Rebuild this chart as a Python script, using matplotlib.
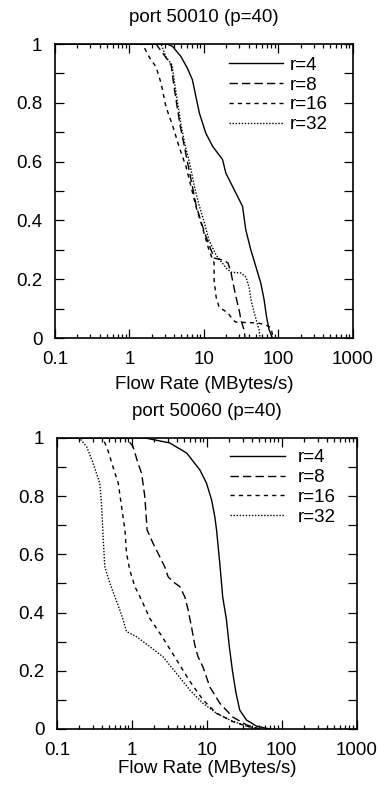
# CDF of flow rates for two ports, r = 4/8/16/32
import numpy as np
import matplotlib
matplotlib.use('Agg')
import matplotlib.pyplot as plt
from matplotlib.ticker import LogLocator, NullFormatter, FixedFormatter, FixedLocator

plt.rcParams['font.family'] = ['Liberation Sans', 'DejaVu Sans']

# ---- port 50010 ----
p1_r4_x = [0.1, 1.5, 3.2, 3.8, 4.9, 6.0, 7.0, 7.8, 8.7, 10.6, 13.1, 17.8, 19.7, 24.2, 33.0, 36.5, 42.6, 49.7, 58.0, 64.3, 69.1, 75, 83]
p1_r4_y = [1.0, 1.0, 1.0, 0.992, 0.958, 0.918, 0.879, 0.822, 0.765, 0.697, 0.652, 0.607, 0.561, 0.516, 0.448, 0.368, 0.300, 0.244, 0.187, 0.130, 0.074, 0.028, 0.0]

p1_r8_x = [0.1, 2.28, 2.92, 3.63, 3.86, 4.23, 4.79, 5.42, 6.14, 6.95, 7.85, 9.17, 10.7, 12.5, 13.7, 18.1, 21.1, 23.2, 24.6, 27.0, 29.7, 31.5, 34.6, 35.7]
p1_r8_y = [1.0, 1.0, 0.963, 0.929, 0.878, 0.810, 0.724, 0.656, 0.588, 0.520, 0.452, 0.395, 0.344, 0.299, 0.272, 0.265, 0.255, 0.221, 0.187, 0.139, 0.095, 0.061, 0.027, 0.0]

p1_r16_x = [0.1, 1.44, 1.57, 1.84, 2.28, 2.66, 3.10, 3.86, 4.65, 5.77, 6.73, 7.85, 9.17, 10.7, 11.7, 13.7, 13.7, 14.6, 16.0, 21.1, 24.6, 27.0, 53.4, 68.4, 79.8, 84.9]
p1_r16_y = [1.0, 1.0, 0.990, 0.956, 0.922, 0.867, 0.786, 0.718, 0.650, 0.582, 0.514, 0.446, 0.391, 0.333, 0.299, 0.255, 0.197, 0.139, 0.105, 0.085, 0.061, 0.054, 0.051, 0.044, 0.034, 0.0]

p1_r32_x = [0.1, 2.66, 3.10, 3.74, 3.98, 4.37, 4.94, 5.59, 6.53, 7.38, 8.62, 10.07, 11.7, 14.6, 19.9, 23.2, 31.5, 36.8, 40.4, 43.0, 47.2, 51.8, 55.1, 56.8]
p1_r32_y = [1.0, 1.0, 0.956, 0.929, 0.878, 0.810, 0.724, 0.656, 0.588, 0.520, 0.452, 0.395, 0.333, 0.282, 0.238, 0.224, 0.221, 0.207, 0.173, 0.129, 0.088, 0.051, 0.027, 0.0]

# ---- port 50060 ----
p2_r4_x = [0.1, 1.5, 3.2, 5.4, 8.1, 9.9, 11.6, 12.8, 13.5, 14.2, 14.9, 16.3, 18.3, 20.0, 22.0, 24.5, 27.5, 33.8, 46, 69]
p2_r4_y = [1.0, 1.0, 0.983, 0.948, 0.890, 0.845, 0.787, 0.729, 0.684, 0.625, 0.570, 0.454, 0.375, 0.282, 0.200, 0.124, 0.065, 0.031, 0.010, 0.0]

p2_r8_x = [0.1, 0.85, 1.04, 1.21, 1.35, 1.49, 1.60, 1.92, 2.36, 2.75, 3.05, 3.55, 4.37, 5.09, 5.64, 6.25, 6.9, 7.6, 8.9, 11.0, 14.9, 22.2, 34, 51]
p2_r8_y = [1.0, 1.0, 0.970, 0.913, 0.879, 0.799, 0.684, 0.638, 0.592, 0.557, 0.523, 0.506, 0.489, 0.454, 0.409, 0.351, 0.29, 0.25, 0.213, 0.144, 0.089, 0.041, 0.014, 0.0]

p2_r16_x = [0.1, 0.41, 0.48, 0.56, 0.66, 0.73, 0.81, 0.85, 0.94, 1.10, 1.35, 1.74, 2.5, 3.9, 5.9, 8.9, 13.5, 22.4, 33.8, 50]
p2_r16_y = [1.0, 1.0, 0.958, 0.901, 0.844, 0.764, 0.684, 0.604, 0.546, 0.489, 0.443, 0.38, 0.32, 0.24, 0.165, 0.10, 0.054, 0.025, 0.010, 0.0]

p2_r32_x = [0.1, 0.2, 0.25, 0.305, 0.374, 0.394, 0.414, 0.436, 0.509, 0.593, 0.692, 0.766, 0.85, 1.16, 1.74, 2.61, 3.94, 5.93, 8.93, 13.5, 20.3, 33.8, 50]
p2_r32_y = [1.0, 1.0, 0.970, 0.913, 0.844, 0.776, 0.661, 0.558, 0.501, 0.455, 0.409, 0.375, 0.335, 0.317, 0.283, 0.248, 0.191, 0.134, 0.088, 0.054, 0.031, 0.010, 0.0]

labels = ['r=4', 'r=8', 'r=16', 'r=32']
styles = ['-', (0, (6, 3)), (0, (3, 3)), (0, (1, 1.2))]

yticks = [i / 10 for i in range(11)]
ytick_labels = ['0', '', '0.2', '', '0.4', '', '0.6', '', '0.8', '', '1']


def draw(ax, series, title, xlabelpad, leg_anchor, textpad):
    for (x, y), lab, ls in zip(series, labels, styles):
        ax.plot(x, y, color='black', lw=1.0, linestyle=ls, label=lab)
    ax.set_xscale('log')
    ax.set_xlim(0.1, 1000)
    ax.set_ylim(0, 1)
    ax.xaxis.set_major_locator(FixedLocator([0.1, 1, 10, 100, 1000]))
    ax.xaxis.set_major_formatter(FixedFormatter(['0.1', '1', '10', '100', '1000']))
    ax.xaxis.set_minor_locator(LogLocator(base=10, subs=np.arange(2, 10)))
    ax.xaxis.set_minor_formatter(NullFormatter())
    ax.yaxis.set_major_locator(FixedLocator(yticks))
    ax.yaxis.set_major_formatter(FixedFormatter(ytick_labels))
    ax.tick_params(which='both', direction='in', top=True, right=True, labelsize=13.5, width=0.9)
    ax.tick_params(which='major', length=6.5)
    ax.tick_params(axis='x', which='major', pad=9.5)
    ax.tick_params(axis='y', which='major', pad=9)
    ax.tick_params(which='minor', length=3.2)
    for s in ax.spines.values():
        s.set_linewidth(1.2)
    ax.set_title(title, fontsize=13.5, pad=16)
    ax.set_xlabel('Flow Rate (MBytes/s)', fontsize=13.5, labelpad=xlabelpad)
    ax.legend(loc='upper right', bbox_to_anchor=leg_anchor, frameon=False, fontsize=13.5,
              handlelength=2.9, handletextpad=textpad, labelspacing=0.14, borderaxespad=0.2)


fig = plt.figure(figsize=(3.84, 7.87), dpi=100)
ax1 = fig.add_axes([0.143, 0.5705, 0.776, 0.3735])
ax2 = fig.add_axes([0.148, 0.0737, 0.781, 0.3698])

draw(ax1, [(p1_r4_x, p1_r4_y), (p1_r8_x, p1_r8_y), (p1_r16_x, p1_r16_y), (p1_r32_x, p1_r32_y)],
     'port 50010 (p=40)', 5.4, (0.953, 0.995), 0.35)
draw(ax2, [(p2_r4_x, p2_r4_y), (p2_r8_x, p2_r8_y), (p2_r16_x, p2_r16_y), (p2_r32_x, p2_r32_y)],
     'port 50060 (p=40)', 0.5, (0.968, 1.0), 0.7)

fig.savefig('out.png', dpi=100)
